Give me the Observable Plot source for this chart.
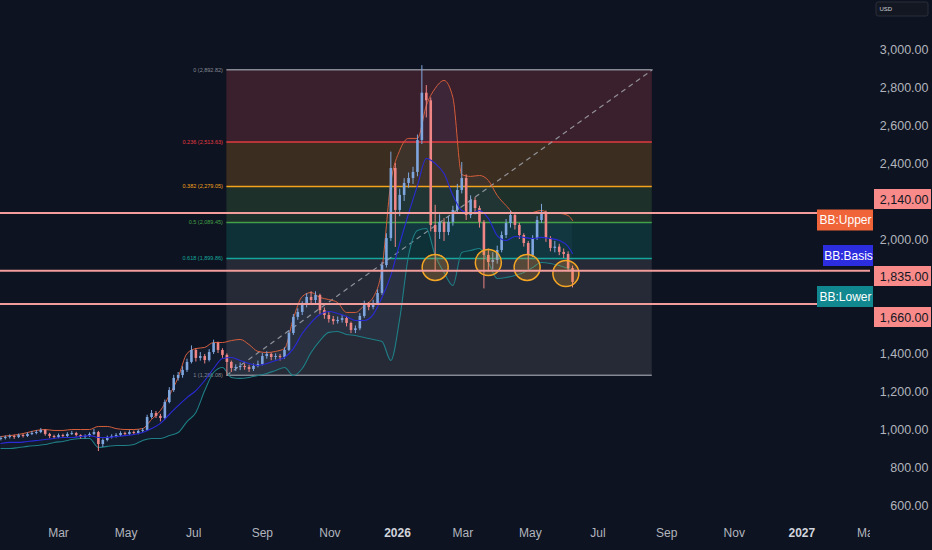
<!DOCTYPE html>
<html><head><meta charset="utf-8">
<script src="https://cdn.jsdelivr.net/npm/d3@7"></script>
<script src="https://cdn.jsdelivr.net/npm/@observablehq/plot@0.6"></script>
<style>
html,body{margin:0;padding:0;background:#0d1320;overflow:hidden;}
#chart{width:932px;height:550px;}
</style></head><body><div id="chart"></div>
<script>
// ---------------- DATA ----------------
const candleStart = "2025-01-08";
const candleStepDays = 4;
const firstOpen = 948;
const closes = [
 953,958,963,958,968,963,974,979,984,995,
 974,963,958,968,963,974,979,968,958,963,
 974,984,921,942,958,963,968,979,974,984,
 979,990,995,1063,1084,1069,1058,1142,1205,1269,
 1284,1311,1353,1416,1374,1384,1363,1405,1453,1416,
 1390,1353,1321,1326,1332,1326,1316,1332,1342,1384,
 1395,1379,1384,1379,1416,1505,1590,1616,1653,1695,
 1679,1705,1626,1600,1579,1568,1574,1584,1558,1521,
 1530,1595,1658,1642,1663,1716,1863,2005,2374,2153,
 2232,2295,2321,2353,2521,2770,2730,2074,2037,2090,
 2037,2090,2153,2258,2321,2126,2205,2163,2090,1916,
 1879,1890,1942,2021,2084,2126,2074,2021,1979,1916,
 2005,2100,2142,2005,1953,1960,1932,1921,1847,1774];
const highs = [
 962,966,972,970,976,975,982,990,995,1005,
 1000,980,970,976,975,983,990,985,972,972,
 982,1000,990,950,965,972,978,988,986,994,
 992,998,1005,1075,1100,1095,1080,1155,1220,1285,
 1300,1330,1370,1440,1425,1405,1395,1420,1470,1460,
 1425,1398,1360,1340,1350,1345,1338,1345,1360,1400,
 1410,1402,1398,1395,1430,1520,1605,1635,1672,1715,
 1725,1725,1712,1640,1615,1595,1592,1600,1595,1565,
 1545,1610,1675,1668,1680,1735,1880,2030,2460,2400,
 2265,2320,2350,2380,2550,2915,2810,2745,2180,2130,
 2110,2120,2175,2290,2405,2340,2230,2220,2175,2100,
 1950,1930,1965,2040,2105,2150,2140,2085,2030,1990,
 2020,2120,2185,2150,2015,1990,1975,1950,1935,1860];
const lows = [
 940,945,950,948,952,955,958,968,972,978,
 965,952,948,952,955,958,968,960,950,950,
 958,968,884,905,935,950,955,962,965,968,
 970,972,982,990,1055,1058,1040,1050,1135,1195,
 1255,1270,1300,1345,1355,1360,1345,1355,1395,1400,
 1375,1286,1300,1305,1310,1312,1300,1305,1325,1335,
 1370,1362,1365,1360,1370,1410,1495,1575,1600,1640,
 1660,1660,1605,1580,1560,1550,1555,1560,1540,1505,
 1505,1520,1585,1625,1630,1655,1705,1850,1990,1958,
 2120,2200,2270,2290,2330,2500,2640,2040,1830,2000,
 1990,2020,2070,2140,2240,2100,2110,2130,2060,1740,
 1830,1840,1870,1930,2005,2060,2050,2000,1960,1840,
 1905,1995,2085,1985,1935,1930,1915,1900,1830,1745];

// Bollinger bands, read every 2nd candle (last point = last candle)
const bandStride = 2;
const upperBand = [
 963,968,974,984,995,1000,995,995,1000,1000,
 1000,1016,1016,1005,1000,1000,1005,1053,1100,1179,
 1274,1400,1426,1432,1458,1458,1468,1474,1447,1411,
 1405,1411,1426,1584,1700,1721,1695,1684,1668,1616,
 1616,1653,1695,1847,2300,2469,2532,2532,2705,2795,
 2837,2747,2342,2332,2337,2311,2232,2179,2137,2137,
 2142,2153,2137,2137,2126,2100];
const basisBand = [
 926,932,932,937,942,947,953,958,958,963,
 968,958,958,963,968,974,984,1005,1032,1079,
 1126,1168,1205,1258,1321,1374,1379,1363,1347,1337,
 1347,1363,1379,1426,1505,1563,1605,1621,1611,1595,
 1574,1574,1605,1695,1811,1979,2137,2284,2426,2400,
 2347,2232,2153,2137,2153,2111,2021,1995,2016,2011,
 2005,2011,2005,1995,1963,1926];
const lowerBand = [
 900,900,905,911,916,921,932,937,947,953,
 953,905,911,916,916,921,942,953,953,968,
 984,1042,1090,1205,1300,1326,1274,1269,1274,1284,
 1295,1311,1326,1284,1321,1405,1468,1511,1516,1500,
 1495,1484,1474,1463,1363,1584,1916,2047,2058,1916,
 1826,1758,1932,1942,1953,1879,1795,1800,1811,1826,
 1853,1879,1874,1863,1847,1837];

// Fibonacci retracement
const fibRatios = ["0","0.236","0.382","0.5","0.618","1"];
const fibPrices = [2892.82,2513.63,2279.05,2089.45,1899.86,1286.08];
const fibStart = "2025-07-31";
const fibEnd = "2026-08-19";

// Horizontal levels and labels
const levelPrices = [2140, 1835, 1660];
const bbNames = ["BB:Upper","BB:Basis","BB:Lower"];

// Highlighted touches
const circleDates = ["2026-02-04","2026-03-24","2026-04-28","2026-06-02"];
const circlePrices = [1853, 1879, 1853, 1821];

// Axis ticks
const yTicks = [600,800,1000,1200,1400,2000,2400,2600,2800,3000];
const monthTickDates = ["2025-03-01","2025-05-01","2025-07-01","2025-09-01","2025-11-01","2026-03-01","2026-05-01","2026-07-01","2026-09-01","2026-11-01","2027-03-01"];
const monthTickLabels = ["Mar","May","Jul","Sep","Nov","Mar","May","Jul","Sep","Nov","Mar"];
const yearTickDates = ["2026-01-01","2027-01-01"];
const yearTickLabels = ["2026","2027"];

// ---------------- STYLE / LAYOUT ----------------
const BG = "#0d1320";
const UP = "#7fa6de", DOWN = "#ef8585";
const fibLineColors = ["#868993","#e53a42","#f5a21f","#44a048","#16a69c","#868993"];
const fibFillColors = ["#3a1f2c","#3b2d1f","#1d3029","#0e3137","#252a36"];
const levelColor = "#f29c9c";
const tagFill = "#f98a8a";
const bbColors = ["#ef6438","#2d2de0","#11878f"];
const DAY = 864e5;
const pxPerDay = (397 - 58) / 306;
const t0 = Date.parse("2025-03-01") - (58 / pxPerDay) * DAY;
const xAt = px => new Date(t0 + (px / pxPerDay) * DAY);
const yAt = py => 3000 - (py - 49) / 0.19;
const tagCenters = [199, 276, 317];
const bbCenters = [220, 255.5, 296.5];
const bbLefts = [817, 823, 817];

// ---------------- BUILD ----------------
const t1 = Date.parse(candleStart);
const candles = closes.map((c, i) => ({
  date: new Date(t1 + i * candleStepDays * DAY),
  open: i === 0 ? firstOpen : closes[i - 1],
  close: c, high: highs[i], low: lows[i]
}));
const upC = candles.filter(d => d.close >= d.open);
const dnC = candles.filter(d => d.close < d.open);
const bands = upperBand.map((u, k) => ({
  date: candles[Math.min(k * bandStride, candles.length - 1)].date,
  upper: u, basis: basisBand[k], lower: lowerBand[k]
}));
const fibs = fibPrices.map((p, i) => ({ratio: fibRatios[i], price: p, color: fibLineColors[i]}));
const circles = circleDates.map((d, i) => ({date: new Date(d), price: circlePrices[i]}));
const fmt = d3.format(",.2f");
const fontFamily = "'Liberation Sans', Arial, sans-serif";

const marks = [];
for (let i = 0; i < 5; i++) {
  marks.push(Plot.rect([0], {x1: () => new Date(fibStart), x2: () => new Date(fibEnd),
    y1: () => fibPrices[i + 1], y2: () => fibPrices[i], fill: fibFillColors[i]}));
}
marks.push(Plot.areaY(bands, {x: "date", y1: "lower", y2: "upper", fill: "#5b80c0", fillOpacity: 0.08, curve: "monotone-x"}));
fibs.forEach(f => {
  marks.push(Plot.ruleY([f.price], {x1: new Date(fibStart), x2: new Date(fibEnd), stroke: f.color, strokeWidth: 1.5}));
  marks.push(Plot.text([f], {x: () => new Date(fibStart), y: "price", text: d => `${d.ratio} (${fmt(d.price)})`,
    textAnchor: "end", dx: -4, fontSize: 5.5, fill: f.color}));
});
marks.push(Plot.line([{date: new Date(fibStart), price: fibPrices[5]}, {date: new Date(fibEnd), price: fibPrices[0]}],
  {x: "date", y: "price", stroke: "#a0a3ab", strokeWidth: 1.2, strokeDasharray: "4,5", strokeOpacity: 0.85}));
marks.push(Plot.line(bands, {x: "date", y: "upper", stroke: "#d65d3a", strokeWidth: 1, curve: "monotone-x"}));
marks.push(Plot.line(bands, {x: "date", y: "lower", stroke: "#1f7f86", strokeWidth: 1.1, curve: "monotone-x"}));
marks.push(Plot.ruleX(upC, {x: "date", y1: "low", y2: "high", stroke: UP, strokeWidth: 1}));
marks.push(Plot.ruleX(dnC, {x: "date", y1: "low", y2: "high", stroke: DOWN, strokeWidth: 1}));
marks.push(Plot.ruleX(upC, {x: "date", y1: "open", y2: "close", stroke: UP, strokeWidth: 2.6}));
marks.push(Plot.ruleX(dnC, {x: "date", y1: "open", y2: "close", stroke: DOWN, strokeWidth: 2.6}));
marks.push(Plot.line(bands, {x: "date", y: "basis", stroke: "#2a2ad6", strokeWidth: 1.1, curve: "monotone-x"}));
marks.push(Plot.dot(circles, {x: "date", y: "price", r: 13, stroke: "#f5a524", strokeWidth: 1.5, fill: "#f5a524", fillOpacity: 0.22}));
marks.push(Plot.ruleY(levelPrices, {stroke: levelColor, strokeWidth: 2}));
marks.push(Plot.text(monthTickDates, {x: d => new Date(d), text: (d, i) => monthTickLabels[i], frameAnchor: "bottom", dy: 16, fill: "#b2b5be", fontSize: 12}));
marks.push(Plot.text(yearTickDates, {x: d => new Date(d), text: (d, i) => yearTickLabels[i], frameAnchor: "bottom", dy: 16, fill: "#d1d4dc", fontSize: 12, fontWeight: "bold"}));
marks.push(Plot.rect([0], {x1: () => xAt(870), x2: () => xAt(945), y1: () => yAt(560), y2: () => yAt(-10), fill: BG}));
marks.push(Plot.text(yTicks, {y: d => d, text: d => fmt(d), frameAnchor: "right", textAnchor: "end", dx: 58, fill: "#b2b5be", fontSize: 12.5}));
levelPrices.forEach((p, i) => {
  const c = tagCenters[i];
  marks.push(Plot.rect([p], {x1: () => xAt(874), x2: () => xAt(931), y1: () => yAt(c - 10), y2: () => yAt(c + 10), fill: tagFill}));
  marks.push(Plot.text([p], {x: () => xAt(928), y: () => yAt(c), text: d => fmt(d), textAnchor: "end", fill: "#131722", fontSize: 12.5}));
});
bbNames.forEach((n, i) => {
  const c = bbCenters[i];
  marks.push(Plot.rect([n], {x1: () => xAt(bbLefts[i]), x2: () => xAt(873), y1: () => yAt(c - 10.5), y2: () => yAt(c + 10.5), fill: bbColors[i]}));
  marks.push(Plot.text([n], {x: () => xAt((bbLefts[i] + 873) / 2), y: () => yAt(c), text: d => d, fill: "#ffffff", fontSize: 12}));
});
marks.push(Plot.rect(["USD"], {x1: () => xAt(876), x2: () => xAt(928), y1: () => yAt(16), y2: () => yAt(2), fill: "#131722", stroke: "#2a2e39", rx: 2}));
marks.push(Plot.text(["USD"], {x: () => xAt(879), y: () => yAt(9), text: d => d, textAnchor: "start", fill: "#d1d4dc", fontSize: 6}));

const chart = Plot.plot({
  width: 932, height: 550,
  marginLeft: 0, marginRight: 62, marginTop: 0, marginBottom: 30,
  x: {type: "utc", domain: [xAt(0), xAt(870)], axis: null},
  y: {domain: [yAt(520), yAt(0)], axis: null},
  style: {background: BG, fontFamily, overflow: "visible"},
  marks
});
document.getElementById("chart").appendChild(chart);
</script>
</body></html>
